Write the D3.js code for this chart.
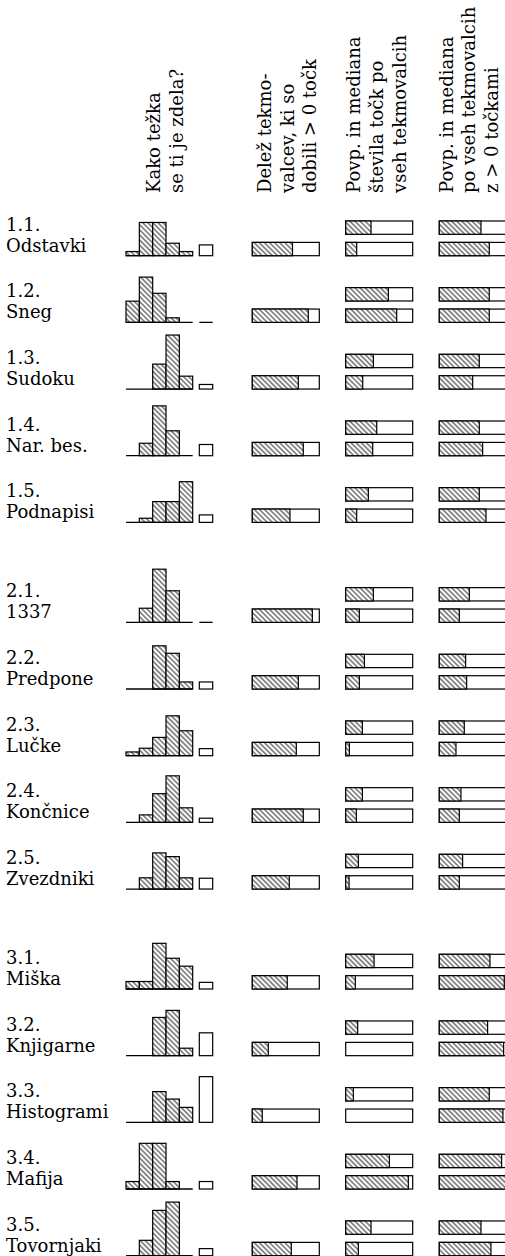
<!DOCTYPE html>
<html>
<head>
<meta charset="utf-8">
<script src="https://cdn.jsdelivr.net/npm/d3@7"></script>
<style>
body{margin:0;background:#fff;}
svg{display:block;}
text{font-family:"DejaVu Serif",serif;font-size:18px;fill:#000;}
</style>
</head>
<body>
<svg width="505" height="1256"></svg>
<script>
// row labels
var row_num = ["1.1.","1.2.","1.3.","1.4.","1.5.","2.1.","2.2.","2.3.","2.4.","2.5.","3.1.","3.2.","3.3.","3.4.","3.5."];
var row_name = ["Odstavki","Sneg","Sudoku","Nar. bes.","Podnapisi","1337","Predpone","Lučke","Končnice","Zvezdniki","Miška","Knjigarne","Histogrami","Mafija","Tovornjaki"];

// "Kako težka se ti je zdela?" - 5 answers + separate box
var hist = [
  [1, 8, 8, 3, 1],
  [5.1, 10.9, 7, 1.1, 0],
  [0, 0, 6, 13, 3.1],
  [0, 3, 12, 6, 0],
  [0, 1, 5, 5, 9.8],
  [0, 3.4, 12.8, 7.6, 0],
  [0, 0, 10.4, 8.6, 1.7],
  [0.9, 1.8, 4.4, 9.6, 6],
  [0, 1.8, 6.9, 11.2, 3.5],
  [0, 2.7, 8.7, 7.8, 2.7],
  [1.8, 1.8, 11, 7.4, 5.5],
  [0, 0, 9.2, 10.9, 1.8],
  [0, 0, 7.4, 5.6, 3.6],
  [1.8, 11, 11, 1.8, 0],
  [0, 3.7, 10.9, 12.9, 0]
];
var hist_box = [2.6, 0, 1.1, 2.7, 1.8, 0, 1.7, 1.7, 1, 2.6, 1.6, 5.5, 11, 1.8, 1.7];

// share of contestants with > 0 points
var delez = [0.60, 0.836, 0.687, 0.761, 0.562, 0.896, 0.687, 0.657, 0.761, 0.552, 0.522, 0.239, 0.149, 0.667, 0.582];

// mean / median over all contestants
var povp_vsi = [0.378, 0.637, 0.413, 0.463, 0.338, 0.413, 0.279, 0.249, 0.249, 0.189, 0.423, 0.179, 0.114, 0.652, 0.378];
var med_vsi  = [0.164, 0.761, 0.254, 0.403, 0.164, 0.204, 0.204, 0.055, 0.159, 0.05, 0.144, 0, 0, 0.935, 0.189];

// mean / median over contestants with > 0 points
var povp_poz = [0.622, 0.746, 0.597, 0.597, 0.597, 0.448, 0.393, 0.373, 0.323, 0.348, 0.756, 0.721, 0.746, 0.93, 0.622];
var med_poz  = [0.746, 0.746, 0.498, 0.647, 0.697, 0.299, 0.408, 0.249, 0.299, 0.299, 0.97, 0.96, 0.95, 1.0, 0.771];

var headers = [
  ["Kako težka", "se ti je zdela?"],
  ["Delež tekmo-", "valcev, ki so", "dobili > 0 točk"],
  ["Povp. in mediana", "števila točk po", "vseh tekmovalcih"],
  ["Povp. in mediana", "po vseh tekmovalcih", "z > 0 točkami"]
];
var header_x = [[160, 182.5], [271, 293.5, 316], [360, 383, 406], [452.5, 475, 498]];

function draw()
{
  var svg = d3.select("svg");
  var defs = svg.append("defs");
  var pat = defs.append("pattern")
    .attr("id", "hatch")
    .attr("patternUnits", "userSpaceOnUse")
    .attr("width", 3.6).attr("height", 10)
    .attr("patternTransform", "rotate(-45)");
  pat.append("rect").attr("width", 3.6).attr("height", 10).attr("fill", "#fff");
  pat.append("line")
    .attr("x1", 1.8).attr("y1", 0).attr("x2", 1.8).attr("y2", 10)
    .attr("stroke", "#000").attr("stroke-width", 0.9);

  // headers, rotated
  for(var c=0;c<headers.length;c++)
  {
    for(var j=0;j<headers[c].length;j++)
    {
      svg.append("text")
        .attr("transform", "translate(" + header_x[c][j] + ",193) rotate(-90)")
        .text(headers[c][j]);
    }
  }

  // row baselines: 5 rows per group, extra half step between groups
  var rowY = function(i) { return 255.7 + i*66.67 + Math.floor(i/5)*33.3; };

  var hx = d3.scaleBand().domain([0,1,2,3,4]).range([126, 192.7]);
  var hy = d3.scaleLinear().domain([0, 13]).range([0, 54]);
  var xDel = d3.scaleLinear().domain([0, 1]).range([252.3, 319.3]);
  var xVsi = d3.scaleLinear().domain([0, 1]).range([345.7, 412.7]);
  var xPoz = d3.scaleLinear().domain([0, 1]).range([439.3, 506.3]);
  var bh = 13.3;

  var rows = svg.selectAll(".row")
    .data(row_name)
    .enter().append("g")
    .attr("class", "row")
    .attr("transform", (d, i) => "translate(0," + rowY(i) + ")");

  rows.append("text").attr("x", 6).attr("y", -25).text((d, i) => row_num[i]);
  rows.append("text").attr("x", 6).attr("y", -4).text(d => d);

  rows.each(function(d, i) {
    var g = d3.select(this);
    var bins = hist[i].map((v, k) => ({k: k, v: v})).filter(b => b.v > 0);
    // histogram bars
    g.selectAll("rect.hb")
      .data(bins)
      .enter().append("rect")
      .attr("class", "hb")
      .attr("x", b => hx(b.k))
      .attr("y", b => -hy(b.v))
      .attr("width", hx.bandwidth())
      .attr("height", b => hy(b.v))
      .attr("fill", "url(#hatch)")
      .attr("stroke", "#000").attr("stroke-width", 1.2);
    g.append("line")
      .attr("x1", 126).attr("x2", 192.7).attr("y1", 0).attr("y2", 0)
      .attr("stroke", "#000").attr("stroke-width", 1.3);
    // separate box
    if(hist_box[i] > 0)
    {
      g.append("rect")
        .attr("x", 199.3).attr("y", -hy(hist_box[i]))
        .attr("width", 13.4).attr("height", hy(hist_box[i]))
        .attr("fill", "#fff").attr("stroke", "#000").attr("stroke-width", 1.2);
    }
    else
    {
      g.append("line")
        .attr("x1", 199.3).attr("x2", 212.7).attr("y1", 0).attr("y2", 0)
        .attr("stroke", "#000").attr("stroke-width", 1.3);
    }

    hbar(g, xDel, delez[i], -bh);
    hbar(g, xVsi, povp_vsi[i], -34.7);
    hbar(g, xVsi, med_vsi[i], -bh);
    hbar(g, xPoz, povp_poz[i], -34.7);
    hbar(g, xPoz, med_poz[i], -bh);
  });

  function hbar(g, sc, v, y)
  {
    g.append("rect")
      .attr("x", sc(0)).attr("y", y)
      .attr("width", sc(1) - sc(0)).attr("height", bh)
      .attr("fill", "#fff").attr("stroke", "#000").attr("stroke-width", 1.2);
    if(v > 0)
    {
      g.append("rect")
        .attr("x", sc(0)).attr("y", y)
        .attr("width", sc(v) - sc(0)).attr("height", bh)
        .attr("fill", "url(#hatch)").attr("stroke", "#000").attr("stroke-width", 1.2);
    }
  }
}
draw();
</script>
</body>
</html>
